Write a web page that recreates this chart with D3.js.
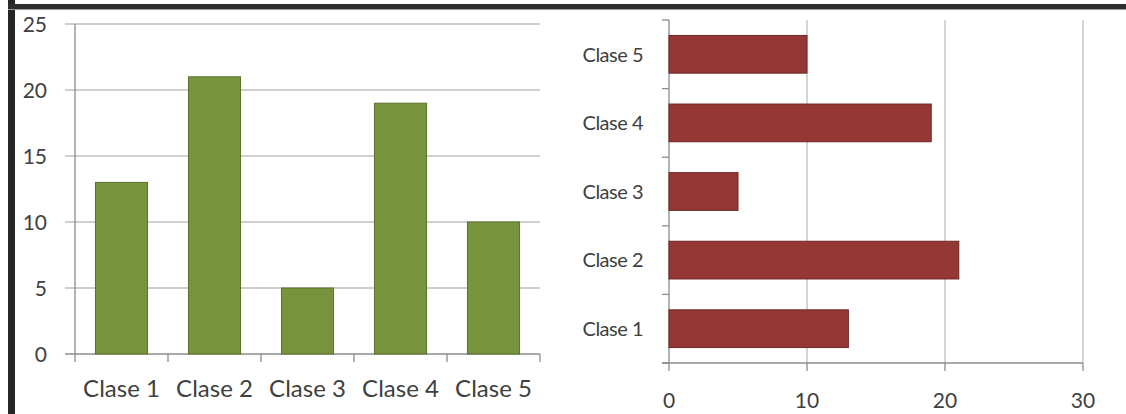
<!DOCTYPE html>
<html>
<head>
<meta charset="utf-8">
<script src="https://cdn.jsdelivr.net/npm/d3@7"></script>
<style>
  html, body { margin: 0; padding: 0; background: #fff; }
  svg { display: block; }
  text { font-family: Lato, "Liberation Sans", sans-serif; fill: #404040; }
</style>
</head>
<body>
<svg id="chart" width="1126" height="414"></svg>
<script>
const categories = ["Clase 1", "Clase 2", "Clase 3", "Clase 4", "Clase 5"];
const values = [13, 21, 5, 19, 10];
const leftTicks = [0, 5, 10, 15, 20, 25];
const rightTicks = [0, 10, 20, 30];

const svg = d3.select("#chart");
const gridColor = "#bfbfbf";
const axisColor = "#8c8c8c";

// frame
svg.append("rect").attr("x", 8).attr("y", 0).attr("width", 7).attr("height", 414).attr("fill", "#262626");
svg.append("rect").attr("x", 8).attr("y", 4).attr("width", 1118).attr("height", 5).attr("fill", "#2e2e2e");
svg.append("rect").attr("x", 8).attr("y", 9).attr("width", 1118).attr("height", 1).attr("fill", "#9a9a9a");

// ---------- left column chart ----------
const lx = d3.scaleBand().domain(categories).range([75, 540]).paddingInner(0.44).paddingOuter(0.22);
const ly = d3.scaleLinear().domain([0, 25]).range([354, 24]);
const L = svg.append("g");

// gridlines + tick marks
L.selectAll("line.grid").data(leftTicks).join("line")
  .attr("x1", 65).attr("x2", 540)
  .attr("y1", d => ly(d)).attr("y2", d => ly(d))
  .attr("stroke", d => d === 0 ? axisColor : gridColor).attr("stroke-width", 1.3);
L.selectAll("text.ytick").data(leftTicks).join("text")
  .attr("x", 47).attr("y", d => ly(d)).attr("dy", "0.36em")
  .attr("text-anchor", "end").attr("font-size", 21).text(d => d);
// y axis line
L.append("line").attr("x1", 75).attr("x2", 75).attr("y1", ly(25)).attr("y2", ly(0))
  .attr("stroke", axisColor).attr("stroke-width", 1.3);
// category boundary ticks
const lstep = lx.step();
const lBounds = categories.map(c => lx(c) - lstep * lx.paddingInner() / 2).concat([lx(categories[4]) + lx.bandwidth() + lstep * lx.paddingInner() / 2]);
L.selectAll("line.xt").data(lBounds).join("line")
  .attr("x1", d => d).attr("x2", d => d).attr("y1", ly(0)).attr("y2", ly(0) + 8)
  .attr("stroke", axisColor).attr("stroke-width", 1.3);
// bars
L.selectAll("rect.bar").data(values).join("rect")
  .attr("x", (d, i) => lx(categories[i]))
  .attr("y", d => ly(d))
  .attr("width", lx.bandwidth())
  .attr("height", d => ly(0) - ly(d))
  .attr("fill", "#77933c").attr("stroke", "#5a722c").attr("stroke-width", 1);
// category labels
L.selectAll("text.xl").data(categories).join("text")
  .attr("x", d => lx(d) + lx.bandwidth() / 2).attr("y", 388).attr("dy", "0.36em")
  .attr("text-anchor", "middle").attr("font-size", 24).text(d => d);

// ---------- right bar chart ----------
const ry = d3.scaleBand().domain(categories.slice().reverse()).range([20, 363]).paddingInner(0.45).paddingOuter(0.225);
const rx = d3.scaleLinear().domain([0, 30]).range([669, 1083]);
const R = svg.append("g");

R.selectAll("line.vgrid").data(rightTicks.filter(d => d > 0)).join("line")
  .attr("x1", d => rx(d)).attr("x2", d => rx(d)).attr("y1", 20).attr("y2", 363)
  .attr("stroke", gridColor).attr("stroke-width", 1.3);
// x axis line
R.append("line").attr("x1", 662).attr("x2", rx(30)).attr("y1", 363).attr("y2", 363)
  .attr("stroke", axisColor).attr("stroke-width", 1.3);
R.selectAll("line.xt").data(rightTicks).join("line")
  .attr("x1", d => rx(d)).attr("x2", d => rx(d)).attr("y1", 363).attr("y2", 371)
  .attr("stroke", axisColor).attr("stroke-width", 1.3);
R.selectAll("text.xl").data(rightTicks).join("text")
  .attr("x", d => rx(d)).attr("y", 400).attr("dy", "0.36em")
  .attr("text-anchor", "middle").attr("font-size", 21).text(d => d);
// y axis
R.append("line").attr("x1", rx(0)).attr("x2", rx(0)).attr("y1", 20).attr("y2", 363)
  .attr("stroke", axisColor).attr("stroke-width", 1.3);
const rstep = ry.step();
const rBounds = ry.domain().map(c => ry(c) - rstep * ry.paddingInner() / 2).concat([363]);
R.selectAll("line.yt").data(rBounds).join("line")
  .attr("x1", 662).attr("x2", rx(0)).attr("y1", d => d).attr("y2", d => d)
  .attr("stroke", axisColor).attr("stroke-width", 1.3);
// bars
R.selectAll("rect.bar").data(values).join("rect")
  .attr("x", rx(0))
  .attr("y", (d, i) => ry(categories[i]))
  .attr("width", d => rx(d) - rx(0))
  .attr("height", ry.bandwidth())
  .attr("fill", "#953735").attr("stroke", "#6e2624").attr("stroke-width", 1);
// category labels
R.selectAll("text.yl").data(categories).join("text")
  .attr("x", 643).attr("y", d => ry(d) + ry.bandwidth() / 2).attr("dy", "0.36em")
  .attr("text-anchor", "end").attr("font-size", 20).attr("letter-spacing", "-0.5").text(d => d);
</script>
</body>
</html>
